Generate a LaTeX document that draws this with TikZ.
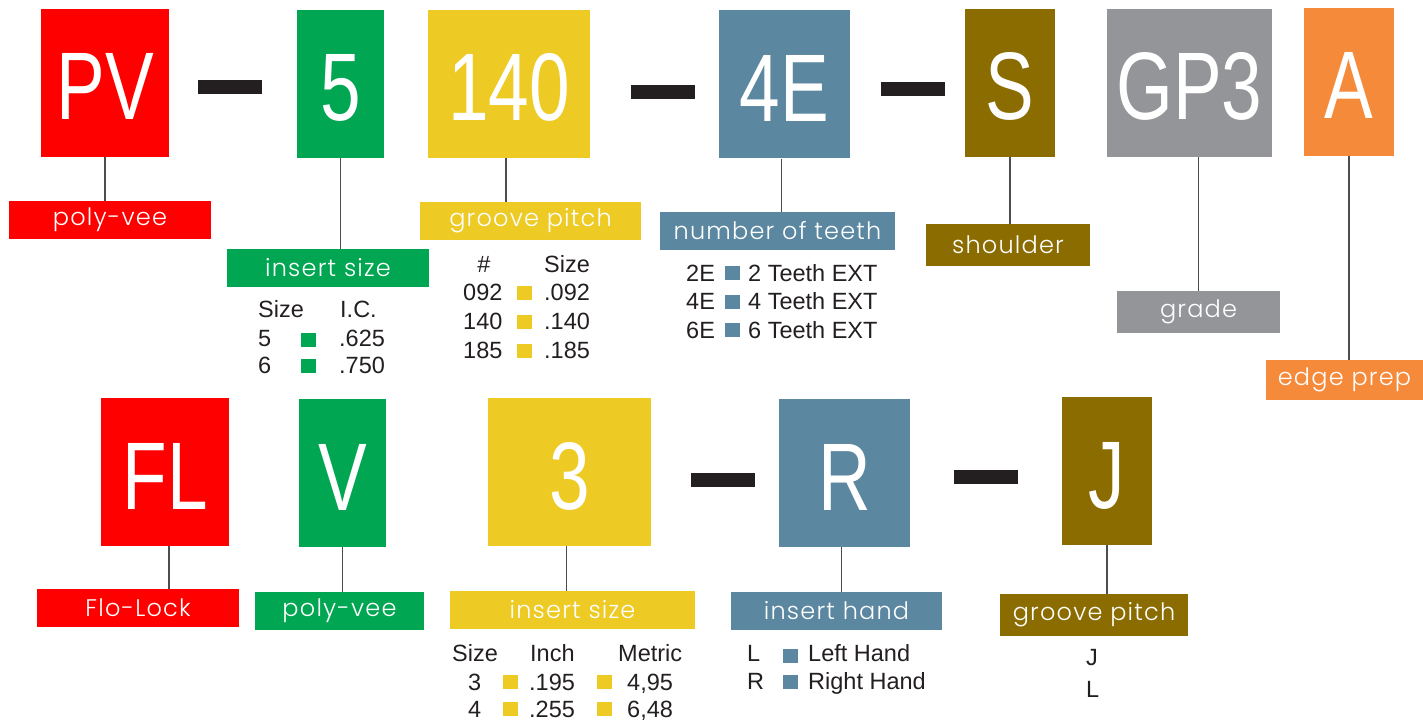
\documentclass[tikz,border=0pt]{standalone}
\usepackage{fontspec}
\setmainfont{Liberation Sans}
\newfontfamily\bigfont[FakeStretch=0.76]{Liberation Sans}
\newfontfamily\lblfont[LetterSpace=5]{Poppins Light}
\definecolor{cred}{HTML}{FF0000}
\definecolor{cgreen}{HTML}{00A651}
\definecolor{cyellow}{HTML}{EECA25}
\definecolor{cblue}{HTML}{5B87A0}
\definecolor{colive}{HTML}{8A6C00}
\definecolor{cgray}{HTML}{939598}
\definecolor{corange}{HTML}{F58A3B}
\definecolor{cdash}{HTML}{231F20}
\definecolor{ctext}{HTML}{231F20}
\definecolor{cconn}{HTML}{4D4D4D}
\tikzset{
  codebox/.style={rectangle, inner sep=0pt, text=white, minimum height=148pt,
    text height=74pt, text depth=0pt,
    font=\bigfont\fontsize{96}{96}\selectfont},
  lbl/.style={rectangle, inner sep=0pt, minimum height=38pt, text=white,
    font=\lblfont\fontsize{24}{24}\selectfont},
  dashbar/.style={rectangle, fill=cdash, inner sep=0pt, minimum width=64pt, minimum height=14pt},
  conn/.style={draw=cconn, line width=1.4pt},
  tbl/.style={inner sep=0pt, text=ctext, font=\fontsize{23.5}{23.5}\selectfont, anchor=base west},
  sq/.style={rectangle, inner sep=0pt, minimum width=15pt, minimum height=14pt}
}
\begin{document}
\begin{tikzpicture}[x=1pt,y=-1pt]
\useasboundingbox (0,0) rectangle (1423,722);
% ---------- top row ----------
\node[codebox, fill=cred, minimum width=128pt] (pv) at (105,83) {PV};
\node[dashbar] (d1) at (230,87) {};
\node[codebox, fill=cgreen, minimum width=87pt] (five) at (340.5,84) {5};
\node[codebox, fill=cyellow, minimum width=162pt] (p140) at (509,84) {140};
\node[dashbar] (d2) at (663,92) {};
\node[codebox, fill=cblue, minimum width=131pt] (t4e) at (784.5,84.5) {4E};
\node[dashbar] (d3) at (912.5,89) {};
\node[codebox, fill=colive, minimum width=90pt] (s) at (1010,83) {S};
\node[codebox, fill=cgray, minimum width=165pt] (gp3) at (1189.5,83) {GP3};
\node[codebox, fill=corange, minimum width=90pt] (a) at (1349,82) {A};
% top labels
\node[lbl, fill=cred, minimum width=202pt] (pvl) at (110,220) {poly-vee};
\node[lbl, fill=cgreen, minimum width=202pt] (fivel) at (328,268) {insert size};
\node[lbl, fill=cyellow, minimum width=221pt] (p140l) at (530.5,221) {groove pitch};
\node[lbl, fill=cblue, minimum width=235pt] (t4el) at (777.5,231) {number of teeth};
\node[lbl, fill=colive, minimum width=164pt, minimum height=42pt] (sl) at (1008,245) {shoulder};
\node[lbl, fill=cgray, minimum width=163pt, minimum height=42pt] (gl) at (1198.5,312) {grade};
\node[lbl, fill=corange, minimum width=157pt, minimum height=40pt] (al) at (1344.5,380) {edge prep};
% top connectors
\draw[conn] (pv.south) -- (pv.south |- pvl.north);
\draw[conn] (five.south) -- (five.south |- fivel.north);
\draw[conn] ([xshift=-3pt]p140.south) -- ([xshift=-3pt]p140.south |- p140l.north);
\draw[conn] ([xshift=-3pt]t4e.south) -- ([xshift=-3pt]t4e.south |- t4el.north);
\draw[conn] (s.south) -- (s.south |- sl.north);
\draw[conn] (gp3.south -| gl.north) -- (gl.north);
\draw[conn] (a.south) -- (a.south |- al.north);
% top tables
\node[tbl] (is-h1) at (258,317) {Size};
\node[tbl] (is-h2) at (340,317) {I.C.};
\node[tbl] (is-r1a) at (258,346) {5};
\node[sq, fill=cgreen] (is-r1s) at (308,340) {};
\node[tbl] (is-r1b) at (339,346) {.625};
\node[tbl] (is-r2a) at (258,373) {6};
\node[sq, fill=cgreen] (is-r2s) at (308,366) {};
\node[tbl] (is-r2b) at (339,373) {.750};
%
\node[tbl, anchor=base] (gp-h1) at (484,272) {\#};
\node[tbl] (gp-h2) at (544,272) {Size};
\node[tbl] (gp-r1a) at (463,300) {092};
\node[sq, fill=cyellow] (gp-r1s) at (524,293) {};
\node[tbl] (gp-r1b) at (544,300) {.092};
\node[tbl] (gp-r2a) at (463,329) {140};
\node[sq, fill=cyellow] (gp-r2s) at (524,321.5) {};
\node[tbl] (gp-r2b) at (544,329) {.140};
\node[tbl] (gp-r3a) at (463,358) {185};
\node[sq, fill=cyellow] (gp-r3s) at (524,350.5) {};
\node[tbl] (gp-r3b) at (544,358) {.185};
%
\node[tbl] (nt-r1a) at (686,281) {2E};
\node[sq, fill=cblue] (nt-r1s) at (732,273) {};
\node[tbl] (nt-r1b) at (748,281) {2 Teeth EXT};
\node[tbl] (nt-r2a) at (686,309.5) {4E};
\node[sq, fill=cblue] (nt-r2s) at (732,301.5) {};
\node[tbl] (nt-r2b) at (748,309.5) {4 Teeth EXT};
\node[tbl] (nt-r3a) at (686,338) {6E};
\node[sq, fill=cblue] (nt-r3s) at (732,330) {};
\node[tbl] (nt-r3b) at (748,338) {6 Teeth EXT};
% ---------- bottom row ----------
\node[codebox, fill=cred, minimum width=128pt] (fl) at (165,472) {FL};
\node[codebox, fill=cgreen, minimum width=87pt] (v) at (342.5,473) {V};
\node[codebox, fill=cyellow, minimum width=163pt] (b3) at (569.5,472) {3};
\node[dashbar] (d4) at (723,480) {};
\node[codebox, fill=cblue, minimum width=131pt] (r) at (844.5,473) {R};
\node[dashbar] (d5) at (986,477) {};
\node[codebox, fill=colive, minimum width=90pt] (j) at (1107,471) {J};
% bottom labels
\node[lbl, fill=cred, minimum width=202pt] (fll) at (138,608) {Flo-Lock};
\node[lbl, fill=cgreen, minimum width=169pt] (vl) at (339.5,611) {poly-vee};
\node[lbl, fill=cyellow, minimum width=245pt] (b3l) at (572.5,610) {insert size};
\node[lbl, fill=cblue, minimum width=211pt] (rl) at (836.5,611) {insert hand};
\node[lbl, fill=colive, minimum width=188pt, minimum height=42pt] (jl) at (1094,615) {groove pitch};
% bottom connectors
\draw[conn] ([xshift=4pt]fl.south) -- ([xshift=4pt]fl.south |- fll.north);
\draw[conn] (v.south) -- (v.south |- vl.north);
\draw[conn] ([xshift=-3pt]b3.south) -- ([xshift=-3pt]b3.south |- b3l.north);
\draw[conn] ([xshift=-3pt]r.south) -- ([xshift=-3pt]r.south |- rl.north);
\draw[conn] (j.south) -- (j.south |- jl.north);
% bottom tables
\node[tbl] (bs-h1) at (452,661) {Size};
\node[tbl] (bs-h2) at (530,661) {Inch};
\node[tbl] (bs-h3) at (618,661) {Metric};
\node[tbl] (bs-r1a) at (468,690) {3};
\node[sq, fill=cyellow] (bs-r1s) at (510,682) {};
\node[tbl] (bs-r1b) at (529,690) {.195};
\node[sq, fill=cyellow] (bs-r1t) at (604,682) {};
\node[tbl] (bs-r1c) at (627,690) {4,95};
\node[tbl] (bs-r2a) at (468,717.5) {4};
\node[sq, fill=cyellow] (bs-r2s) at (510,709) {};
\node[tbl] (bs-r2b) at (529,717.5) {.255};
\node[sq, fill=cyellow] (bs-r2t) at (604,709) {};
\node[tbl] (bs-r2c) at (627,717.5) {6,48};
%
\node[tbl] (ih-r1a) at (747,661) {L};
\node[sq, fill=cblue] (ih-r1s) at (790,655.5) {};
\node[tbl] (ih-r1b) at (808,661) {Left Hand};
\node[tbl] (ih-r2a) at (747,689) {R};
\node[sq, fill=cblue] (ih-r2s) at (790,682) {};
\node[tbl] (ih-r2b) at (808,689) {Right Hand};
%
\node[tbl] (gb-r1) at (1086,665) {J};
\node[tbl] (gb-r2) at (1086,697) {L};
\end{tikzpicture}
\end{document}
